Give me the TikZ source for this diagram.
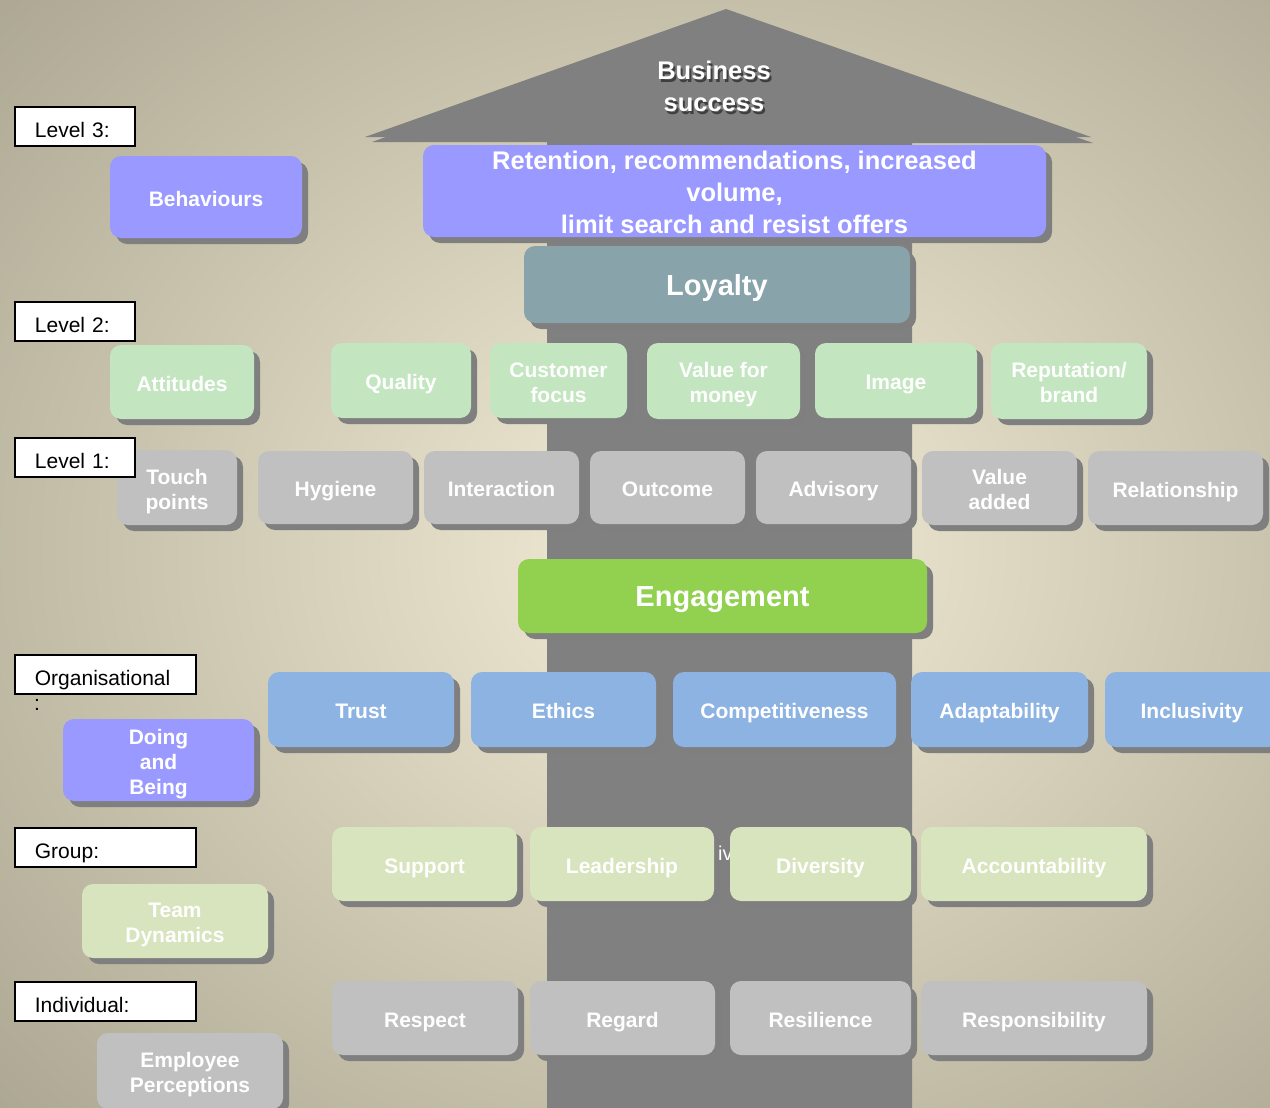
\documentclass[tikz,border=0pt]{standalone}
\usepackage{fontspec}
\setmainfont{Liberation Sans}
\usetikzlibrary{shadows}
\definecolor{bgin}{HTML}{F4EED8}
\definecolor{bgout}{HTML}{A29D88}
\definecolor{arrowgray}{HTML}{808080}
\definecolor{shgray}{HTML}{7F7F7F}
\definecolor{purp}{HTML}{9999FF}
\definecolor{lgreen}{HTML}{C3E6C0}
\definecolor{lgray}{HTML}{C0C0C0}
\definecolor{loyal}{HTML}{88A3AA}
\definecolor{engage}{HTML}{92D050}
\definecolor{lblue}{HTML}{8DB3E2}
\definecolor{pgreen}{HTML}{D7E4BD}
\tikzset{
  box/.style={draw=none, rounded corners=11pt, text=white, inner sep=0pt,
    font=\bfseries\fontsize{21}{25}\selectfont,
    drop shadow={shadow xshift=6pt, shadow yshift=-6pt, fill=shgray, opacity=1}},
  lbl/.style={draw=black, line width=1.8pt, fill=white, anchor=north west, inner sep=0pt,
    font=\fontsize{21}{25}\selectfont, align=left},
  bigtext/.style={font=\bfseries\fontsize{29}{34}\selectfont},
  rettext/.style={font=\bfseries\fontsize{25.5}{32}\selectfont}
}
\newcommand\bt[1]{\raisebox{-4pt}[\height][\depth]{\begin{tabular}{@{}c@{}}#1\end{tabular}}}
\newcommand\bx[8][]{\node[box, fill=#7, minimum width={#5pt-#3pt}, minimum height={#6pt-#4pt}, #1] (#2) at ({(#3+#5)/2},{(#4+#6)/2}) {\bt{#8}};}
\newcommand\lb[6]{\node[lbl, minimum width={#5pt-#3pt}, minimum height={#6pt-#4pt}, text width={#5pt-#3pt-40pt}] (#1) at (#3,#4) {\raisebox{-6pt}[\height][\depth]{\begin{tabular}{@{}l@{}}#2\end{tabular}}};}
\begin{document}
\begin{tikzpicture}[x=1pt,y=-1pt]
\useasboundingbox (0,0) rectangle (1270,1108);
\clip (0,0) rectangle (1270,1108);
% background
\shade[inner color=bgin, outer color=bgout] (-400,-400) rectangle (1800,1500);
% big arrow
\fill[arrowgray] (372,142) -- (727,14) -- (1093,143) -- (912,143) -- (912,1110) -- (547,1110) -- (547,142) -- cycle;
\fill[arrowgray] (365,137) -- (726,9) -- (1091,137) -- cycle;
\node[font=\bfseries\fontsize{25.5}{32}\selectfont, text=black, opacity=0.5, align=center] (bsshadow) at (716,89) {Business\\ success};
\node[font=\bfseries\fontsize{25.5}{32}\selectfont, text=white, align=center] (bs) at (714,86) {Business\\ success};
% level 3
\bx{behav}{110}{156}{302}{238}{purp}{Behaviours}
\node[box, rettext, fill=purp, minimum width=623pt, minimum height=92pt] (ret) at (734.5,191)
  {\raisebox{-10pt}[40pt][40pt]{\begin{tabular}{@{}c@{}}Retention, recommendations, increased\\volume,\\limit search and resist offers\end{tabular}}};
\bx[bigtext]{loyal}{524}{246}{910}{323}{loyal}{Loyalty}
% level 2
\bx{att}{110}{345}{254}{419}{lgreen}{Attitudes}
\bx{qual}{331}{343}{471}{418}{lgreen}{Quality}
\bx{cust}{490}{343}{627}{418}{lgreen}{Customer\\focus}
\bx{vfm}{647}{343}{800}{419}{lgreen}{Value for\\money}
\bx{img}{815}{343}{977}{418}{lgreen}{Image}
\bx{rep}{991}{343}{1147}{419}{lgreen}{Reputation/\\brand}
% level 1
\bx{touch}{117}{450}{237}{525}{lgray}{Touch\\points}
\bx{hyg}{258}{451}{413}{524}{lgray}{Hygiene}
\bx{inter}{424}{451}{579}{524}{lgray}{Interaction}
\bx{outc}{590}{451}{745}{524}{lgray}{Outcome}
\bx{advis}{756}{451}{911}{524}{lgray}{Advisory}
\bx{vadd}{922}{451}{1077}{525}{lgray}{Value\\added}
\bx{relat}{1088}{451}{1263}{525}{lgray}{Relationship}
% engagement
\bx[bigtext]{eng}{518}{559}{927}{633}{engage}{Engagement}
% organisational
\bx{doing}{63}{719}{254}{801}{purp}{Doing\\and\\Being}
\bx{trust}{268}{672}{454}{747}{lblue}{Trust}
\bx{ethics}{471}{672}{656}{747}{lblue}{Ethics}
\bx{comp}{673}{672}{896}{747}{lblue}{Competitiveness}
\bx{adapt}{911}{672}{1088}{747}{lblue}{Adaptability}
\bx{incl}{1105}{672}{1279}{747}{lblue}{Inclusivity}
% group
\bx{team}{82}{884}{268}{958}{pgreen}{Team\\Dynamics}
\bx{supp}{332}{827}{517}{901}{pgreen}{Support}
\bx{lead}{530}{827}{714}{901}{pgreen}{Leadership}
\node[anchor=west, text=white, font=\fontsize{20}{24}\selectfont, inner sep=0pt] (iv) at (718,853) {iv};
\bx{divers}{730}{827}{911}{901}{pgreen}{Diversity}
\bx{account}{921}{827}{1147}{901}{pgreen}{Accountability}
% individual
\bx{empl}{97}{1033}{283}{1109}{lgray}{Employee\\Perceptions}
\bx{resp}{332}{981}{518}{1055}{lgray}{Respect}
\bx{regard}{530}{981}{715}{1055}{lgray}{Regard}
\bx{resil}{730}{981}{911}{1055}{lgray}{Resilience}
\bx{respons}{921}{981}{1147}{1055}{lgray}{Responsibility}
% level labels
\lb{l3}{Level 3:}{14}{106}{134}{145}
\lb{l2}{Level 2:}{14}{301}{134}{340}
\lb{l1}{Level 1:}{14}{437}{134}{476}
\lb{lorg}{Organisational}{14}{654}{195}{693}
\node[font=\fontsize{21}{25}\selectfont, inner sep=0pt] (orgcolon) at (37,705) {:};
\lb{lgrp}{Group:}{14}{827}{195}{866}
\lb{lind}{Individual:}{14}{981}{195}{1020}
\end{tikzpicture}
\end{document}
